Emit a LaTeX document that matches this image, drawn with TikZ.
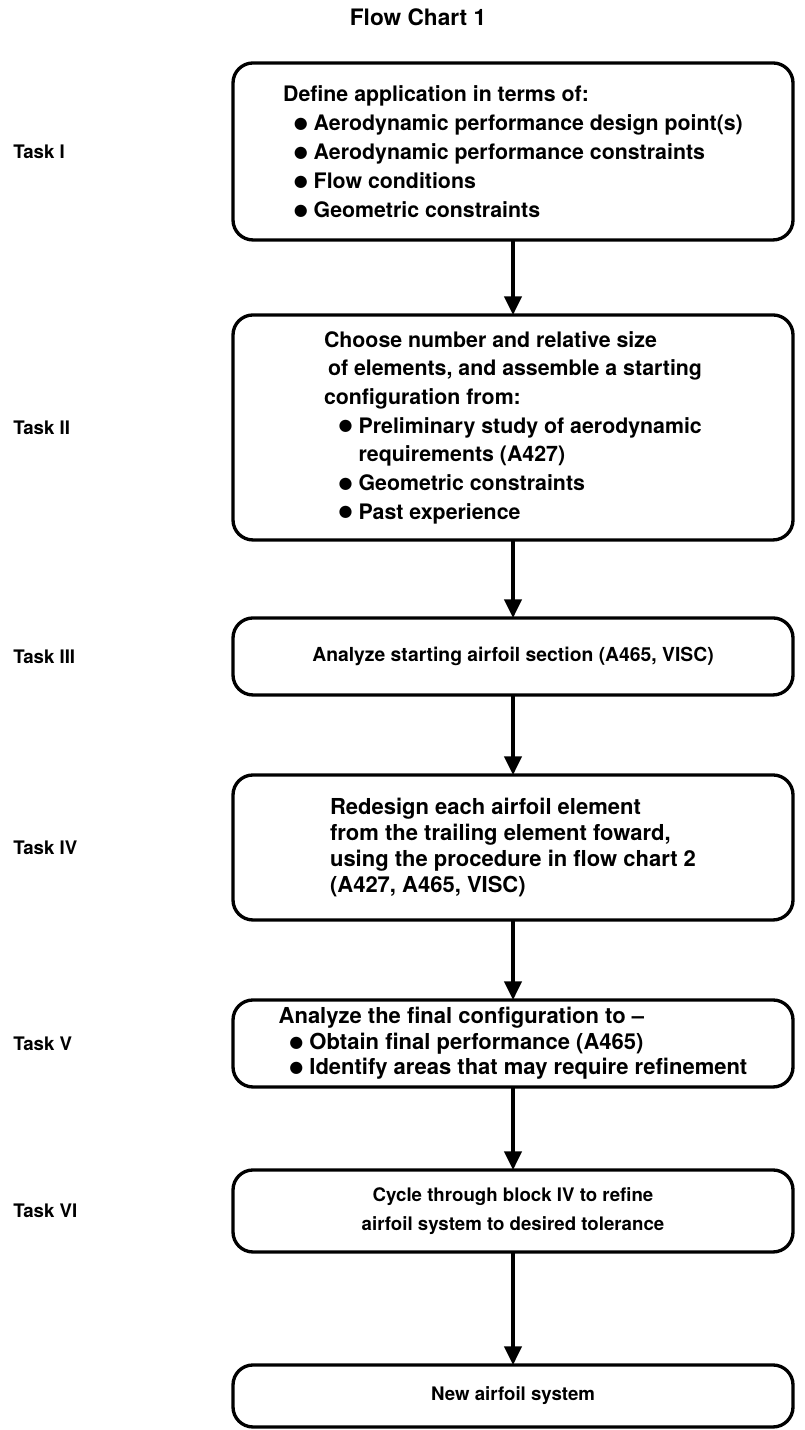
\documentclass[tikz,border=0pt]{standalone}
\usepackage{fontspec}
\setmainfont{TeX Gyre Heros}
\newfontfamily\symfont{DejaVu Sans}
\usetikzlibrary{arrows.meta, positioning}
\tikzstyle{block} = [rectangle, rounded corners=15pt, line width=2.5pt, minimum width=420pt, outer sep=0pt, align=left, draw=black]
\tikzstyle{task} = [anchor=west, inner xsep=0pt]
\tikzstyle{arrow} = [line width=2.5pt, -{Triangle[width=13pt,length=14pt]}]
\newcommand{\bul}{\raisebox{1.6pt}{\symfont\fontsize{12}{12}\selectfont ●}\ }

\begin{document}
\begin{tikzpicture}[node distance = 10mm, every node/.style={font=\fontsize{14}{21.5}\selectfont\bfseries}]
		\useasboundingbox (0,0) rectangle (603.75pt,-1072.5pt);
		\node (Title) [font=\fontsize{17}{20}\selectfont\bfseries] at (313.5pt,-12.75pt) {Flow Chart 1};
		\node (Define) [block, minimum height=132.75pt, font=\fontsize{16}{21.75}\selectfont\bfseries] at (384.75pt,-113.6pt) {Define application in terms of:\\
			\hspace{8pt}\bul Aerodynamic performance design point(s)\\
			\hspace{8pt}\bul Aerodynamic performance constraints\\
			\hspace{8pt}\bul Flow conditions\\
			\hspace{8pt}\bul Geometric constraints};
		\node (Choose) [block, minimum height=168.75pt, font=\fontsize{16}{21.5}\selectfont\bfseries, below = 56.25pt of Define] {Choose number and relative size\\
			\hspace{3pt}of elements, and assemble a starting\\
			configuration from:\\
			\hspace{11pt}\bul Preliminary study of aerodynamic\\
			\hspace{11pt}\phantom{\bul}requirements (A427)\\
			\hspace{11pt}\bul Geometric constraints\\
			\hspace{11pt}\bul Past experience};
		\node (Analyze) [block, minimum height=57.75pt, font=\fontsize{14.5}{21.5}\selectfont\bfseries, below = 58.5pt of Choose] {Analyze starting airfoil section (A465, VISC)};
		\node (Redesign) [block, minimum height=108.75pt, font=\fontsize{16.5}{19.5}\selectfont\bfseries, below = 60pt of Analyze] {Redesign each airfoil element\\
			from the trailing element foward,\\
			using the procedure in flow chart 2\\
			(A427, A465, VISC)};
		\node (FinalCheck) [block, minimum height=65.25pt, font=\fontsize{16.5}{19}\selectfont\bfseries, below = 60pt of Redesign] {Analyze the final configuration to --\\
			\hspace{8pt}\bul Obtain final performance (A465)\\
			\hspace{8pt}\bul Identify areas that may require refinement};
		\node (Cycle) [block, align=center, minimum height=61.5pt, below = 62.25pt of FinalCheck] {Cycle through block IV to refine\\
			airfoil system to desired tolerance};
		\node (NewSystem) [block, align=center, minimum height=46.5pt, below = 84.75pt of Cycle] {New airfoil system};
		% task labels on the left
		\node (TaskI) [task, left = 165pt of Define.west, anchor=west] {Task I};
		\node (TaskII) [task, left = 165pt of Choose.west, anchor=west] {Task II};
		\node (TaskIII) [task, left = 165pt of Analyze.west, anchor=west] {Task III};
		\node (TaskIV) [task, left = 165pt of Redesign.west, anchor=west] {Task IV};
		\node (TaskV) [task, left = 165pt of FinalCheck.west, anchor=west] {Task V};
		\node (TaskVI) [task, left = 165pt of Cycle.west, anchor=west] {Task VI};
		\draw [arrow] (Define) -- (Choose);
		\draw [arrow] (Choose) -- (Analyze);
		\draw [arrow] (Analyze) -- (Redesign);
		\draw [arrow] (Redesign) -- (FinalCheck);
		\draw [arrow] (FinalCheck) -- (Cycle);
		\draw [arrow] (Cycle) -- (NewSystem);
	\end{tikzpicture}
\end{document}
